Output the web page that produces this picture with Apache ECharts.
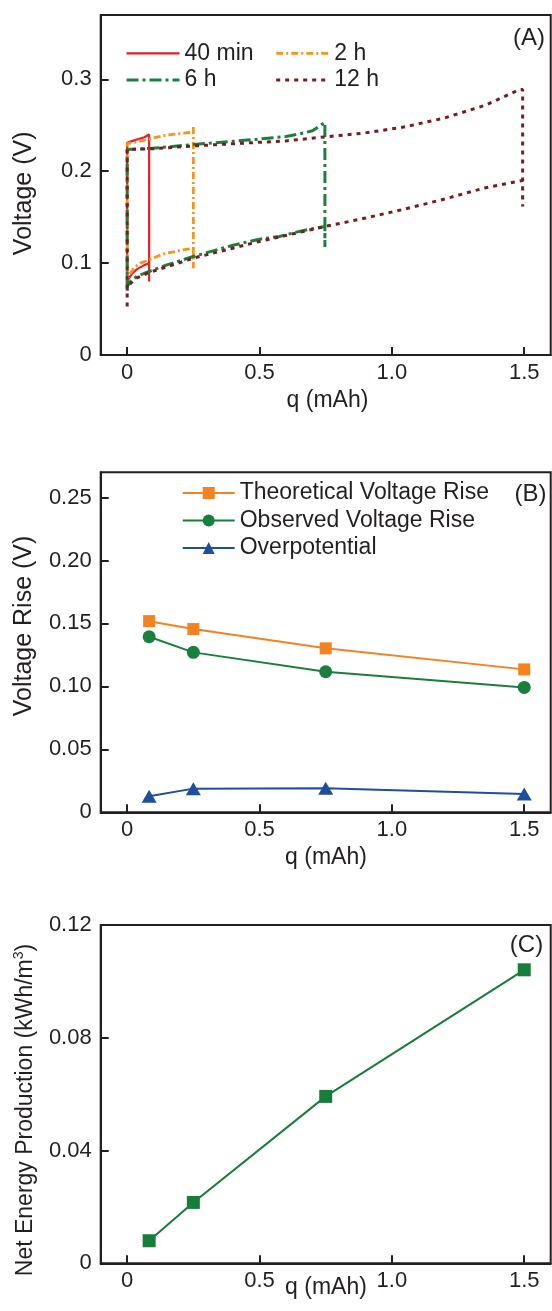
<!DOCTYPE html>
<html><head><meta charset="utf-8">
<script src="https://cdn.jsdelivr.net/npm/echarts@6/dist/echarts.min.js"></script>
<style>html,body{margin:0;padding:0;background:#fff}#c{width:552px;height:1311px}</style>
</head><body><div id="c"></div>
<script>
// ---------- data ----------
const xTicks = [0, 0.5, 1, 1.5];
const xTickLabels = ['0', '0.5', '1.0', '1.5'];
const yTicksA = [0, 0.1, 0.2, 0.3];
const yLabelsA = ['0', '0.1', '0.2', '0.3'];
const yTicksB = [0, 0.05, 0.1, 0.15, 0.2, 0.25];
const yLabelsB = ['0', '0.05', '0.10', '0.15', '0.20', '0.25'];
const yTicksC = [0, 0.04, 0.08, 0.12];
const yLabelsC = ['0', '0.04', '0.08', '0.12'];

// Panel A: voltage vs charge loops [q (mAh), V]
const loop40min = [[0,0.078],[0,0.231],[0.02,0.233],[0.043,0.235],[0.065,0.237],[0.083,0.240],
  [0.083,0.080],[0.083,0.100],[0.06,0.097],[0.04,0.094],[0.02,0.089],[0.006,0.083],[0,0.078]];
const loop2h = [[0,0.080],[0,0.230],[0.04,0.232],[0.083,0.235],[0.137,0.2388],[0.2,0.241],[0.25,0.2425],
  [0.25,0.248],[0.25,0.0945],[0.25,0.1163],[0.2,0.1138],[0.137,0.110],[0.083,0.1036],[0.05,0.100],
  [0.03,0.096],[0.01,0.088],[0,0.082]];
const loop6h = [[0,0.070],[0,0.2236],[0.083,0.2247],[0.25,0.229],[0.4,0.2326],[0.5,0.2350],[0.6,0.2378],
  [0.65,0.2405],[0.7,0.2440],[0.747,0.2530],[0.747,0.1174],[0.747,0.140],[0.65,0.1345],[0.575,0.129],
  [0.5,0.126],[0.4,0.1195],[0.25,0.1072],[0.15,0.098],[0.083,0.0909],[0.04,0.086],[0.015,0.081],[0,0.0745]];
const loop12h = [[0,0.0527],[0,0.2236],[0.1,0.2245],[0.25,0.2275],[0.5,0.2315],[0.6,0.2330],[0.75,0.2374],
  [0.9,0.2417],[1.05,0.2483],[1.2,0.258],[1.35,0.2715],[1.484,0.289],[1.494,0.289],[1.494,0.1617],
  [1.494,0.190],[1.477,0.189],[1.35,0.1818],[1.2,0.1698],[1.05,0.1589],[0.9,0.149],[0.75,0.140],
  [0.5,0.1236],[0.25,0.1054],[0.083,0.0898],[0.03,0.083],[0.01,0.077],[0,0.071]];

// Panel B / C
const qPoints = [0.083, 0.25, 0.75, 1.5];
const theoreticalRise = [0.1518, 0.1455, 0.1302, 0.1135];
const observedRise = [0.1394, 0.1270, 0.1116, 0.0992];
const overpotential = [0.0128, 0.0188, 0.0190, 0.0145];
const netEnergy = [0.0080, 0.0216, 0.0592, 0.1041];

// ---------- chart ----------
const FF = '"Liberation Sans", Arial, Helvetica, sans-serif';
const INK = '#231f20';
function pick(ticks, labels, v) {
  for (let i = 0; i < ticks.length; i++) if (Math.abs(ticks[i] - v) < 1e-9) return labels[i];
  return '';
}
function pairs(xs, ys) { return xs.map((x, i) => [x, ys[i]]); }

const grids = [
  {left: 100.7, top: 15, width: 450, height: 340},
  {left: 100.7, top: 472.3, width: 450, height: 340},
  {left: 100.7, top: 925, width: 450, height: 338.3}
].map(g => Object.assign(g, {show: true, borderColor: INK, borderWidth: 2, backgroundColor: 'transparent'}));

function mkX(gi) {
  return {type: 'value', gridIndex: gi, min: -0.1, max: 1.6,
    axisLine: {onZero: false, lineStyle: {color: INK, width: 2}},
    axisTick: {inside: true, length: 8, customValues: xTicks, lineStyle: {color: INK, width: 2}},
    axisLabel: {customValues: xTicks, formatter: v => pick(xTicks, xTickLabels, v),
      fontSize: 22, fontFamily: FF, color: INK, margin: 7},
    splitLine: {show: false}};
}
function mkY(gi, min, max, ticks, labels) {
  return {type: 'value', gridIndex: gi, min: min, max: max,
    axisLine: {show: true, onZero: false, lineStyle: {color: INK, width: 2}},
    axisTick: {show: true, inside: true, length: 8, customValues: ticks, lineStyle: {color: INK, width: 2}},
    axisLabel: {customValues: ticks, formatter: v => pick(ticks, labels, v),
      fontSize: 22, fontFamily: FF, color: INK, margin: 9},
    splitLine: {show: false}};
}

const lineA = (name, data, color, width, type) => ({
  name, type: 'line', xAxisIndex: 0, yAxisIndex: 0, data, symbol: 'none',
  lineStyle: {color, width, type}, itemStyle: {color}, animation: false
});

const series = [
  lineA('40 min', loop40min, '#ec1c24', 2.2, 'solid'),
  lineA('2 h', loop2h, '#f7941d', 2.8, [7, 3, 2, 3]),
  lineA('6 h', loop6h, '#1a8040', 3, [12, 4, 3, 4]),
  lineA('12 h', loop12h, '#7a1b22', 3, [4, 5]),
  {name: 'Theoretical Voltage Rise', type: 'line', xAxisIndex: 1, yAxisIndex: 1,
    data: pairs(qPoints, theoreticalRise), symbol: 'rect', symbolSize: 12,
    lineStyle: {color: '#f58220', width: 2}, itemStyle: {color: '#f58220'}},
  {name: 'Observed Voltage Rise', type: 'line', xAxisIndex: 1, yAxisIndex: 1,
    data: pairs(qPoints, observedRise), symbol: 'circle', symbolSize: 13,
    lineStyle: {color: '#1a7f3c', width: 2}, itemStyle: {color: '#1a7f3c'}},
  {name: 'Overpotential', type: 'line', xAxisIndex: 1, yAxisIndex: 1,
    data: pairs(qPoints, overpotential), symbol: 'triangle', symbolSize: [15, 13],
    lineStyle: {color: '#1f4e9f', width: 2}, itemStyle: {color: '#1f4e9f'}},
  {name: 'Net Energy', type: 'line', xAxisIndex: 2, yAxisIndex: 2,
    data: pairs(qPoints, netEnergy), symbol: 'rect', symbolSize: 13,
    lineStyle: {color: '#177d3a', width: 2}, itemStyle: {color: '#177d3a'}}
];

const legendBase = {orient: 'vertical', padding: 0, itemGap: 0.7, itemHeight: 14,
  textStyle: {fontSize: 23, fontFamily: FF, color: INK, lineHeight: 26}, selectedMode: false};

const txt = (text, x, y, size, rot) => ({type: 'text', x, y, rotation: rot || 0, silent: true,
  style: {text, fontSize: size, fontFamily: FF, fill: INK, align: 'center', verticalAlign: 'middle',
    textAlign: 'center', textVerticalAlign: 'middle'}});

const option = {
  animation: false,
  backgroundColor: '#fff',
  grid: grids,
  xAxis: [mkX(0), mkX(1), mkX(2)],
  yAxis: [mkY(0, 0, 0.37, yTicksA, yLabelsA), mkY(1, 0, 0.27, yTicksB, yLabelsB), mkY(2, 0, 0.12, yTicksC, yLabelsC)],
  legend: [
    Object.assign({}, legendBase, {left: 125, top: 40.3, itemWidth: 53, itemStyle: {opacity: 0},
      data: [{name: '40 min', lineStyle: {width: 2.2}}, {name: '6 h', lineStyle: {width: 3}}]}),
    Object.assign({}, legendBase, {left: 274.7, top: 40.3, itemWidth: 53, itemStyle: {opacity: 0},
      data: [{name: '2 h', lineStyle: {width: 2.8}}, {name: '12 h', lineStyle: {width: 3}}]}),
    Object.assign({}, legendBase, {left: 181.7, top: 480, itemWidth: 52, itemHeight: 15, itemGap: 1.5,
      data: [{name: 'Theoretical Voltage Rise', lineStyle: {width: 2}},
             {name: 'Observed Voltage Rise', lineStyle: {width: 2}},
             {name: 'Overpotential', lineStyle: {width: 2}}]})
  ],
  series: series,
  graphic: [
    txt('(A)', 529, 38, 24),
    txt('(B)', 530.5, 494, 24),
    txt('(C)', 526.5, 945, 24),
    txt('Voltage (V)', 24.5, 193.3, 25, Math.PI / 2),
    txt('Voltage Rise (V)', 24, 626, 25, Math.PI / 2),
    {type: 'text', x: 25.5, y: 1110, rotation: Math.PI / 2, silent: true,
      style: {text: '{n|Net Energy Production (kWh/m}{s|3}{n|)}', fontFamily: FF, fill: INK,
        align: 'center', verticalAlign: 'middle', textAlign: 'center', textVerticalAlign: 'middle',
        rich: {n: {fontSize: 23, fontFamily: FF, fill: INK, lineHeight: 26},
               s: {fontSize: 14, fontFamily: FF, fill: INK, verticalAlign: 'top', lineHeight: 14}}}},
    txt('q (mAh)', 327.5, 400.7, 23),
    txt('q (mAh)', 326, 857.3, 23),
    txt('q (mAh)', 326, 1287.3, 23)
  ]
};
const chart = echarts.init(document.getElementById('c'), null, {renderer: 'canvas', width: 552, height: 1311});
chart.setOption(option);
</script>
</body></html>
